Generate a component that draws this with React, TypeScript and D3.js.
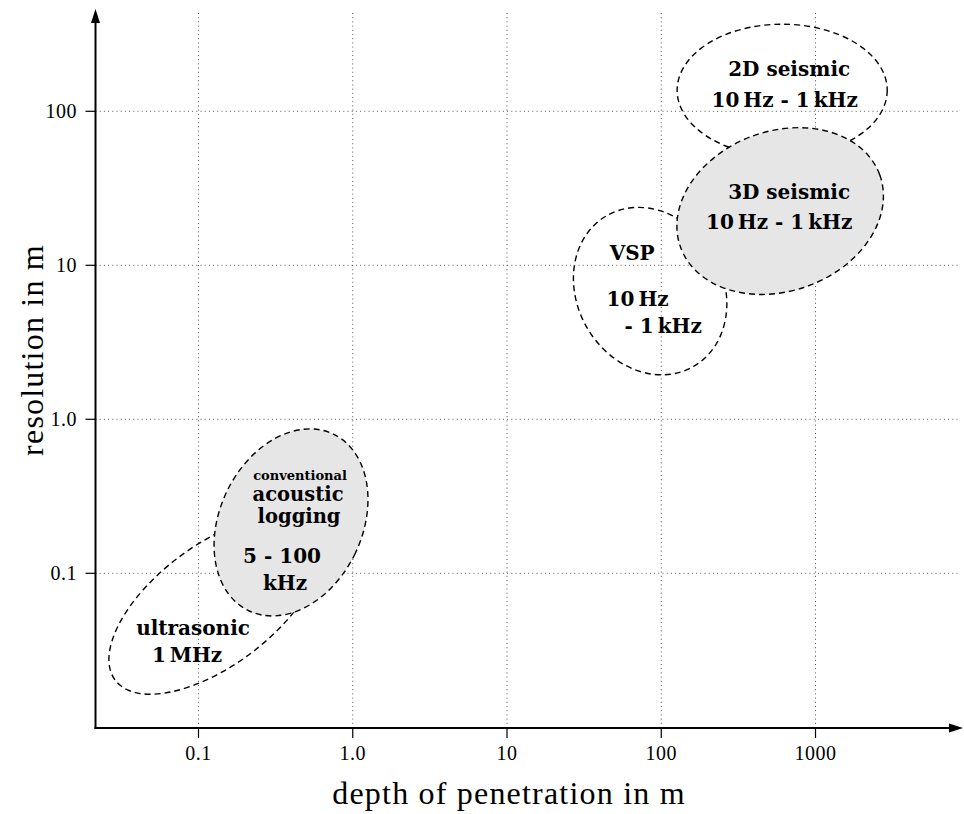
import React from "react";
import * as d3 from "d3";

// ---------- data ----------
const xTickValues = [0.1, 1, 10, 100, 1000];
const xTickLabels = ["0.1", "1.0", "10", "100", "1000"];
const yTickValues = [0.1, 1, 10, 100];
const yTickLabels = ["0.1", "1.0", "10", "100"];

const regionNames = ["ultrasonic", "acoustic logging", "2D seismic", "VSP", "3D seismic"];
// centre of each region (depth in m, resolution in m)
const regionDepth = [0.128, 0.398, 608, 84.7, 590];
const regionResolution = [0.0622, 0.214, 137, 6.8, 22.5];
// half-extent of each region in decades
const regionDepthSpread = [0.81, 0.462, 0.681, 0.473, 0.687];
const regionResolutionSpread = [0.39, 0.636, 0.429, 0.565, 0.519];
const regionTilt = [-37, 25.6, 0, -30, -20];
const regionFilled = [false, true, false, false, true];
const regionLabels = [
  ["ultrasonic", "1\u2009MHz"],
  ["conventional", "acoustic", "logging", "5 - 100", "kHz"],
  ["2D seismic", "10\u2009Hz - 1\u2009kHz"],
  ["VSP", "10\u2009Hz", "- 1\u2009kHz"],
  ["3D seismic", "10\u2009Hz - 1\u2009kHz"],
];

// ---------- layout ----------
const W = 964;
const H = 814;
const axisLeft = 95.5;
const axisBottom = 728;
const axisTop = 9;
const axisRight = 963;
const gridTop = 12;
const gridRight = 958;

// label offsets relative to region centre (px) and font sizes
const labelOffsets = [
  [[-22, 30], [-28, 57]],
  [[9, -42], [7, -21], [8, 0.5], [-9, 40.5], [-6, 67.5]],
  [[7, -14], [2.5, 16.5]],
  [[-18, -31], [-12.5, 15], [13, 42]],
  [[9, -12], [-1, 18]],
];
const labelSizes = [
  [20, 20],
  [13, 19.5, 19.5, 20, 20],
  [20, 20],
  [20, 20, 20],
  [20, 20],
];

const serif = "'Liberation Serif', 'Times New Roman', serif";
const boldSerif = "'DejaVu Serif', serif";

export default function App() {
  const x = d3.scaleLog().domain([0.1, 1000]).range([198.5, 815.5]);
  const y = d3.scaleLog().domain([0.1, 100]).range([573.3, 111.3]);

  const order = [0, 1, 2, 3, 4];

  return (
    <svg
      width={W}
      height={H}
      viewBox={`0 0 ${W} ${H}`}
      style={{ position: "absolute", left: 0, top: 0, background: "#fff" }}
    >
      <rect x={0} y={0} width={W} height={H} fill="#fff" />
      {/* grid */}
      <g stroke="#555" strokeWidth={1} strokeDasharray="1,3.2">
        {xTickValues.map((v, i) => (
          <line key={"gx" + i} x1={x(v)} x2={x(v)} y1={axisBottom} y2={gridTop} />
        ))}
        {yTickValues.map((v, i) => (
          <line key={"gy" + i} x1={axisLeft} x2={gridRight} y1={y(v)} y2={y(v)} />
        ))}
      </g>

      {/* regions */}
      {order.map((i) => {
        const cx = x(regionDepth[i]);
        const cy = y(regionResolution[i]);
        const rx = x(regionDepth[i] * Math.pow(10, regionDepthSpread[i])) - cx;
        const ry = cy - y(regionResolution[i] * Math.pow(10, regionResolutionSpread[i]));
        return (
          <ellipse
            key={regionNames[i]}
            cx={cx}
            cy={cy}
            rx={rx}
            ry={ry}
            transform={`rotate(${regionTilt[i]} ${cx} ${cy})`}
            fill={regionFilled[i] ? "#e6e6e6" : "none"}
            stroke="#000"
            strokeWidth={1.4}
            strokeDasharray="6,4"
          />
        );
      })}

      {/* region labels */}
      {order.map((i) => {
        const cx = x(regionDepth[i]);
        const cy = y(regionResolution[i]);
        return (
          <g key={"lab" + i}>
            {regionLabels[i].map((t, j) => (
              <text
                key={j}
                x={cx + labelOffsets[i][j][0]}
                y={cy + labelOffsets[i][j][1]}
                textAnchor="middle"
                fontFamily={boldSerif}
                fontWeight="bold"
                fontSize={labelSizes[i][j]}
                fill="#000"
              >
                {t}
              </text>
            ))}
          </g>
        );
      })}

      {/* axes */}
      <g stroke="#000">
        <line x1={axisLeft} x2={axisLeft} y1={axisBottom + 1} y2={axisTop + 10} strokeWidth={2} />
        <line x1={axisLeft - 1} x2={axisRight - 10} y1={axisBottom} y2={axisBottom} strokeWidth={2} />
      </g>
      <path
        d={`M${axisLeft},${axisTop} L${axisLeft - 4.5},${axisTop + 14} L${axisLeft + 4.5},${axisTop + 14} Z`}
        fill="#000"
      />
      <path
        d={`M${axisRight},${axisBottom} L${axisRight - 14},${axisBottom - 4.5} L${axisRight - 14},${axisBottom + 4.5} Z`}
        fill="#000"
      />

      {/* ticks */}
      <g stroke="#000" strokeWidth={1.2}>
        {xTickValues.map((v, i) => (
          <line key={"tx" + i} x1={x(v)} x2={x(v)} y1={axisBottom} y2={axisBottom + 10} />
        ))}
        {yTickValues.map((v, i) => (
          <line key={"ty" + i} x1={axisLeft - 10} x2={axisLeft} y1={y(v)} y2={y(v)} />
        ))}
      </g>
      <g fontFamily={serif} fontSize={20} fill="#000">
        {xTickValues.map((v, i) => (
          <text key={"lx" + i} x={x(v)} y={760} textAnchor="middle" letterSpacing={0.5}>
            {xTickLabels[i]}
          </text>
        ))}
        {yTickValues.map((v, i) => (
          <text key={"ly" + i} x={77} y={y(v) + 7} textAnchor="end" letterSpacing={0.5}>
            {yTickLabels[i]}
          </text>
        ))}
      </g>

      {/* axis titles */}
      <text
        x={509}
        y={804}
        textAnchor="middle"
        fontFamily={serif}
        fontSize={32}
        letterSpacing={1.2}
        fill="#000"
      >
        depth of penetration in m
      </text>
      <text
        transform={`translate(43,350) rotate(-90)`}
        textAnchor="middle"
        fontFamily={serif}
        fontSize={32}
        letterSpacing={1.2}
        fill="#000"
      >
        resolution in m
      </text>
    </svg>
  );
}
